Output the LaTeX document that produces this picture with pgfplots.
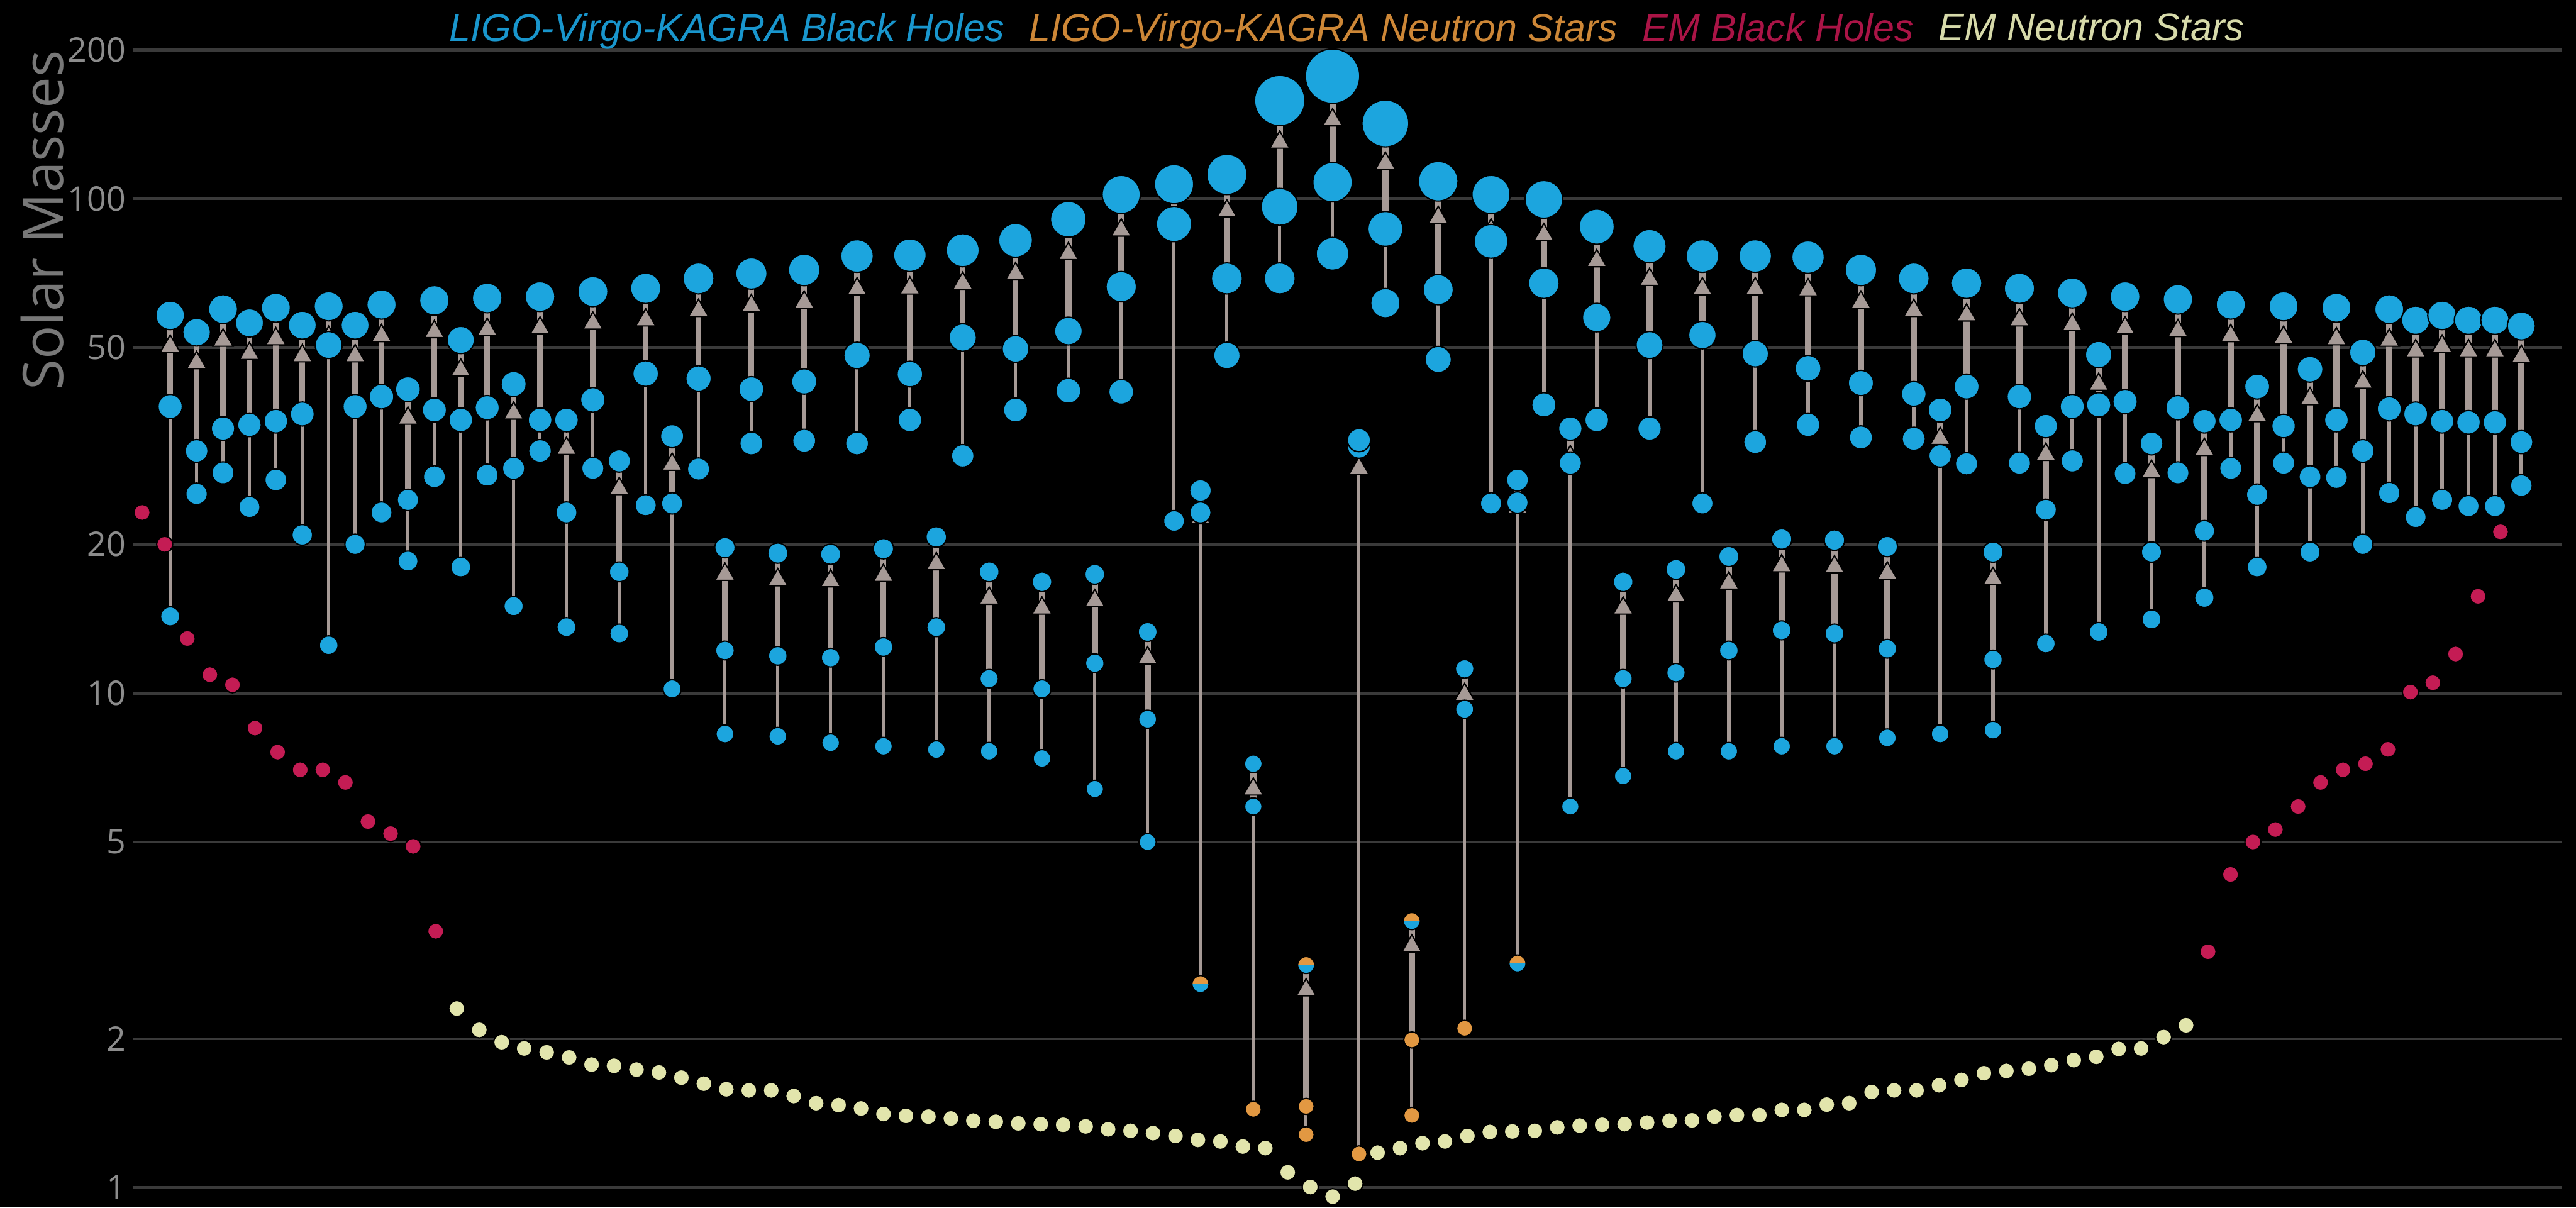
\documentclass[border=0pt]{standalone}
\usepackage{fontspec}
\setmainfont{Open Sans}
\newfontfamily\legfont{Liberation Sans}
\usepackage{pgfplots}
\pgfplotsset{compat=1.18}
\usepackage{pgfplotstable}
\usetikzlibrary{backgrounds}
\definecolor{lvkblue}{RGB}{28,165,222}
\definecolor{lvkorange}{RGB}{226,152,66}
\definecolor{emred}{RGB}{196,28,84}
\definecolor{emyellow}{RGB}{226,229,172}
\definecolor{linegray}{RGB}{166,154,150}
\definecolor{gridgray}{RGB}{58,58,58}
\definecolor{tickgray}{RGB}{140,140,140}
\definecolor{labelgray}{RGB}{120,120,120}
\definecolor{legblue}{RGB}{25,150,205}
\definecolor{legorange}{RGB}{205,135,55}
\definecolor{legred}{RGB}{170,20,70}
\definecolor{legyellow}{RGB}{215,218,170}

% LVK events: x index, final mass, component masses; c = 0 blue, 1 orange (NS), 2 half
\pgfplotstableread{
x f m1 m2 cf c1 c2
0 58.1 38.0 14.3 0 0 0
1 53.7 30.9 25.3 0 0 0
2 59.8 34.3 27.9 0 0 0
3 56.1 34.9 23.8 0 0 0
4 60.2 35.5 27.0 0 0 0
5 55.5 36.7 20.9 0 0 0
6 60.6 50.6 12.5 0 0 0
7 55.5 38.0 20.0 0 0 0
8 61.1 39.8 23.2 0 0 0
9 41.2 24.6 18.5 0 0 0
10 62.3 37.4 27.4 0 0 0
11 51.8 35.7 18.0 0 0 0
12 63.0 37.8 27.6 0 0 0
13 42.2 28.5 15.0 0 0 0
14 63.4 35.7 30.9 0 0 0
15 35.7 23.2 13.6 0 0 0
16 64.9 39.2 28.5 0 0 0
17 29.5 17.6 13.2 0 0 0
18 65.9 44.3 24.0 0 0 0
19 33.1 24.2 10.2 0 0 0
20 69.0 43.3 28.4 0 0 0
21 19.7 12.2 8.27 0 0 0
22 70.6 41.2 32.0 0 0 0
23 19.2 11.9 8.18 0 0 0
24 71.8 42.7 32.4 0 0 0
25 19.1 11.8 7.94 0 0 0
26 76.6 48.2 32.0 0 0 0
27 19.6 12.4 7.81 0 0 0
28 76.9 44.2 35.7 0 0 0
29 20.7 13.6 7.69 0 0 0
30 78.7 52.4 30.2 0 0 0
31 17.6 10.7 7.63 0 0 0
32 82.4 49.7 37.4 0 0 0
33 16.8 10.2 7.38 0 0 0
34 90.9 54.0 40.9 0 0 0
35 17.4 11.5 6.4 0 0 0
36 102 66.4 40.7 0 0 0
37 13.3 8.86 5.0 0 0 0
38 107 88.9 22.3 0 0 0
39 25.7 23.2 2.58 0 0 2
40 112 69.0 48.2 0 0 0
41 7.2 5.9 1.44 0 0 1
42 158 96.3 69.0 0 0 0
43 2.82 1.46 1.28 2 1 1
44 177 108 77.4 0 0 0
45 32.5 31.5 1.17 0 0 1
46 142 86.9 61.5 0 0 0
47 3.46 1.99 1.40 2 1 1
48 108.5 65.5 47.3 0 0 0
49 11.2 9.28 2.10 0 0 1
50 102 82.0 24.2 0 0 0
51 27.0 24.3 2.84 0 0 2
52 99.7 67.5 38.3 0 0 0
53 34.3 29.2 5.9 0 0 0
54 87.8 57.5 35.7 0 0 0
55 16.8 10.7 6.8 0 0 0
56 80.2 50.6 34.3 0 0 0
57 17.8 11.0 7.63 0 0 0
58 76.6 53.0 24.2 0 0 0
59 18.9 12.2 7.63 0 0 0
60 76.6 48.6 32.2 0 0 0
61 20.5 13.4 7.81 0 0 0
62 76.2 45.4 34.9 0 0 0
63 20.4 13.2 7.81 0 0 0
64 71.8 42.4 32.9 0 0 0
65 19.8 12.3 8.12 0 0 0
66 69.0 40.3 32.7 0 0 0
67 37.4 30.2 8.27 0 0 0
68 67.5 41.7 29.1 0 0 0
69 19.3 11.7 8.42 0 0 0
70 65.9 39.8 29.2 0 0 0
71 34.7 23.5 12.6 0 0 0
72 64.5 38.0 29.5 0 0 0
73 48.4 38.3 13.3 0 0 0
74 63.4 38.9 27.8 0 0 0
75 32.0 19.3 14.1 0 0 0
76 62.6 37.8 27.9 0 0 0
77 35.5 21.3 15.6 0 0 0
78 61.1 35.7 28.5 0 0 0
79 41.7 25.2 18.0 0 0 0
80 60.6 34.7 29.2 0 0 0
81 45.2 27.4 19.3 0 0 0
82 60.2 35.7 27.3 0 0 0
83 48.9 30.9 20.0 0 0 0
84 59.8 37.6 25.4 0 0 0
85 56.8 36.7 22.7 0 0 0
86 58.1 35.5 24.6 0 0 0
87 56.8 35.3 23.9 0 0 0
88 56.8 35.3 23.9 0 0 0
89 55.3 32.2 26.3 0 0 0
}\events

% derived columns: lengths of the connecting lines, and masses split by colour class
\pgfplotstablecreatecol[expr={\thisrow{f}-\thisrow{m2}}]{e2}\events
\pgfplotstablecreatecol[expr={\thisrow{f}-\thisrow{m1}}]{e1}\events
\newcommand\mkcol[4]{%
  \pgfplotstablecreatecol[create col/assign/.code={%
    \getthisrow{#2}\cval
    \ifnum\cval=#3\relax \getthisrow{#4}\mval \else \def\mval{nan}\fi
    \pgfkeyslet{/pgfplots/table/create col/next content}\mval}]{#1}\events}
\mkcol{bf}{cf}{0}{f}
\mkcol{b1}{c1}{0}{m1}
\mkcol{b2}{c2}{0}{m2}
\mkcol{o1}{c1}{1}{m1}
\mkcol{o2}{c2}{1}{m2}
\mkcol{hf}{cf}{2}{f}
\mkcol{h2}{c2}{2}{m2}

% EM neutron stars
\pgfplotstableread{
k m
0 2.303
1 2.085
2 1.969
3 1.912
4 1.878
5 1.834
6 1.774
7 1.764
8 1.733
9 1.710
10 1.669
11 1.623
12 1.581
13 1.573
14 1.573
15 1.532
16 1.482
17 1.469
18 1.446
19 1.409
20 1.397
21 1.392
22 1.380
23 1.366
24 1.359
25 1.349
26 1.344
27 1.340
28 1.330
29 1.312
30 1.303
31 1.289
32 1.272
33 1.249
34 1.240
35 1.211
36 1.202
37 1.074
38 1.003
39 0.959
40 1.019
41 1.177
42 1.202
43 1.230
44 1.240
45 1.272
46 1.296
47 1.299
48 1.303
49 1.324
50 1.335
51 1.340
52 1.344
53 1.354
54 1.366
55 1.368
56 1.392
57 1.402
58 1.402
59 1.436
60 1.436
61 1.472
62 1.482
63 1.561
64 1.573
65 1.573
66 1.611
67 1.652
68 1.704
69 1.722
70 1.740
71 1.769
72 1.811
73 1.839
74 1.908
75 1.912
76 2.016
77 2.130
}\emns

% EM black holes
\pgfplotstableread{
x m
-1.063 23.2
-0.208 20.0
0.647 12.9
1.502 10.9
2.357 10.4
3.212 8.5
4.067 7.6
4.922 7.0
5.777 7.0
6.632 6.6
7.487 5.5
8.342 5.2
9.197 4.9
10.052 3.3
77.14 3.0
77.99 4.3
78.84 5.0
79.69 5.3
80.55 5.9
81.40 6.6
82.25 7.0
83.10 7.2
83.95 7.7
84.80 10.05
85.65 10.5
86.51 12.0
87.36 15.7
88.21 21.2
}\embh

\pgfplotsset{
  sized blue/.style={forget plot, scatter, only marks, mark=*, point meta=explicit,
    scatter/use mapped color={draw=none, fill=lvkblue},
    scatter/@pre marker code/.append style={/tikz/mark size={2.45+0.033*\pgfplotspointmetatransformed}}},
}

\begin{document}
\begin{tikzpicture}[background rectangle/.style={fill=black, draw=none}, show background rectangle, inner frame sep=0pt]
\begin{axis}[
  name=ax,
  scale only axis, width=739.2pt, height=352.3pt,
  ymode=log, ymin=0.9122, ymax=200,
  xmin=-1.43, xmax=90.51,
  point meta min=0, point meta max=1000,
  axis line style={draw=none},
  xtick=\empty,
  ytick={1,2,5,10,20,50,100,200},
  yticklabels={1,2,5,10,20,50,100,200},
  major tick length=0pt,
  ymajorgrids,
  major grid style={draw=gridgray, line width=0.85pt},
  yticklabel style={font=\fontsize{10.3}{12}\selectfont, text=tickgray, inner sep=0pt, xshift=-1.8pt},
  ylabel={Solar Masses},
  ylabel style={at={(axis description cs:-0.0371,1)}, anchor=east, inner sep=0pt, font=\fontsize{17}{20}\selectfont, text=labelgray},
  legend columns=4,
  legend cell align=left,
  legend style={at={(axis description cs:0.5,1.0175)}, anchor=center, draw=none, fill=none, inner sep=0pt,
    font=\legfont\itshape\fontsize{11.7}{14}\selectfont,
    nodes={inner sep=0pt},
    /tikz/every even column/.append style={column sep=7.5pt}},
]
\addlegendimage{empty legend}\addlegendentry{\textcolor{legblue}{LIGO-Virgo-KAGRA Black Holes}}
\addlegendimage{empty legend}\addlegendentry{\textcolor{legorange}{LIGO-Virgo-KAGRA Neutron Stars}}
\addlegendimage{empty legend}\addlegendentry{\textcolor{legred}{EM Black Holes}}
\addlegendimage{empty legend}\addlegendentry{\textcolor{legyellow}{EM Neutron Stars}}

% connecting lines: final down to lighter component (thin) and to heavier component (thick)
\addplot[forget plot, draw=none, mark=none,
  error bars/.cd, y dir=minus, y explicit, error mark=none,
  error bar style={draw=linegray, line width=1.0pt}]
  table[x=x, y=f, y error minus=e2] {\events};
\addplot[forget plot, draw=none, mark=none,
  error bars/.cd, y dir=minus, y explicit, error mark=none,
  error bar style={draw=linegray, line width=1.8pt}]
  table[x=x, y=f, y error minus=e1] {\events};

% arrow heads below the final mass
\addplot[forget plot, scatter, only marks, mark=triangle*, mark size=3.5pt, point meta=explicit,
  scatter/use mapped color={draw=none, fill=linegray},
  scatter/@pre marker code/.append style={/tikz/mark size=3.5pt, /tikz/yshift={-(2.45+0.033*\pgfplotspointmetatransformed+1.6+3.5)*1pt}}]
  table[x=x, y=f, meta=f] {\events};

% EM neutron stars and black holes
\addplot[forget plot, only marks, mark=*, mark size=2.45pt, mark options={draw=none, fill=emyellow}]
  table[x expr=10.85+0.8501*\thisrow{k}, y=m] {\emns};
\addplot[forget plot, only marks, mark=*, mark size=2.45pt, mark options={draw=none, fill=emred}]
  table[x=x, y=m] {\embh};

% LVK neutron stars
\addplot[forget plot, only marks, mark=*, mark size=2.45pt, mark options={draw=none, fill=lvkorange}]
  table[x=x, y=o1] {\events};
\addplot[forget plot, only marks, mark=*, mark size=2.45pt, mark options={draw=none, fill=lvkorange}]
  table[x=x, y=o2] {\events};

% LVK black hole components
\addplot[sized blue] table[x=x, y=b2, meta=m2] {\events};
\addplot[sized blue] table[x=x, y=b1, meta=m1] {\events};

% mass-gap objects (half blue, half orange)
\addplot[forget plot, only marks, mark=halfcircle*, mark size=2.6pt,
  mark options={draw=none, fill=lvkorange, mark color=lvkblue}]
  table[x=x, y=h2] {\events};
\addplot[forget plot, only marks, mark=halfcircle*, mark size=2.6pt,
  mark options={draw=none, fill=lvkorange, mark color=lvkblue}]
  table[x=x, y=hf] {\events};

% final masses
\addplot[sized blue] table[x=x, y=bf, meta=f] {\events};
\end{axis}
\pgfresetboundingbox
\path[use as bounding box] ([xshift=-40.3pt]ax.south west) rectangle ([xshift=4.5pt,yshift=15.2pt]ax.north east);
\end{tikzpicture}
\end{document}
